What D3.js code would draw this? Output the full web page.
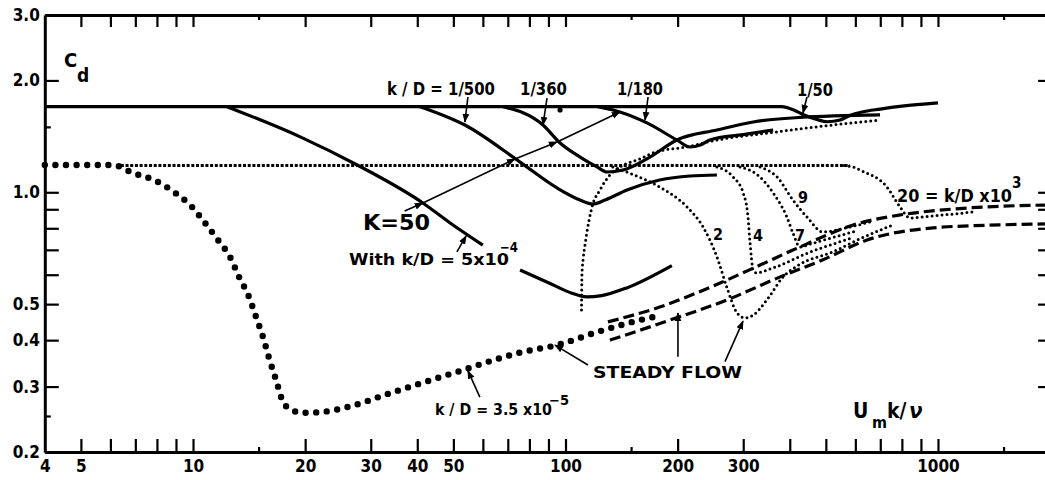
<!DOCTYPE html>
<html><head><meta charset="utf-8">
<script src="https://cdn.jsdelivr.net/npm/d3@7"></script>
<style>
body{margin:0;background:#fff}
svg{display:block}
text{font-family:"DejaVu Sans Condensed","DejaVu Sans",sans-serif;font-stretch:condensed;font-weight:bold;fill:#000}
</style></head><body>
<svg id="c" width="1045" height="480"></svg>
<script>
// ---------- tick data ----------
const xTickValues = [4,5,6,7,8,9,10,15,20,30,40,50,60,70,80,90,100,150,200,300,400,500,600,700,800,900,1000,1500];
const xMinorTicks = [15,150,1500];
const xLabelValues = [4,5,10,20,30,40,50,100,200,300,1000];
const yTickValues = [0.2,0.25,0.3,0.4,0.5,0.6,0.7,0.8,0.9,1.0,1.5,2.0,3.0];
const yRightTickValues = [0.25,0.3,0.4,0.5,0.6,0.7,0.8,0.9,1.0,1.5,2.0,2.5];
const yMinorTicks = [0.25,1.5,2.5];
const yLabelValues = [0.2,0.3,0.4,0.5,1.0,2.0,3.0];
const yLabelTexts  = ["0.2","0.3","0.4","0.5","1.0","2.0","3.0"];

// ---------- series (Re = Um k/nu, Cd) ----------
const topLine50 = [[4,1.70],[381,1.70],[410,1.665],[434,1.62],[473,1.57],[504,1.548],[546,1.565],[580,1.61],[625,1.645],[700,1.675],[800,1.705],[1000,1.74]];
const curve5e4  = [[12.34,1.70],[19.4,1.41],[27.6,1.184],[41.4,0.936],[49,0.827],[60,0.721]];
const kD500     = [[40.7,1.70],[53.7,1.517],[75.5,1.206],[94.9,1.027],[109.4,0.953],[118.5,0.93],[127.7,0.953],[146.3,1.014],[179,1.079],[216,1.106],[255,1.113]];
const kD360     = [[68,1.70],[87,1.517],[96.7,1.357],[110,1.24],[121.5,1.17],[129.2,1.134],[142.7,1.148],[168.6,1.244],[199,1.383],[255,1.471],[319,1.546],[426,1.59],[699,1.615]];
const kD180     = [[122,1.70],[140,1.645],[165.5,1.537],[199,1.383],[216,1.324],[230,1.34],[244,1.383],[300,1.43],[361,1.471]];
const lowerSolid= [[75.5,0.618],[90,0.571],[104,0.535],[114,0.523],[125,0.527],[146,0.553],[193,0.635]];
const kLine50   = [[37,0.89],[41.4,0.936],[73.2,1.229],[94.9,1.366],[140,1.645]];
const bigDots   = [[4,1.184],[6.1,1.184],[6.9,1.127],[7.86,1.079],[8.89,1.002],[9.94,0.913],[10.77,0.827],[11.67,0.744],[12.57,0.670],[13.29,0.592],[14.13,0.523],[14.76,0.462],[15.41,0.408],[16.0,0.358],[16.7,0.313],[17.44,0.273],[18.44,0.259],[19.74,0.255],[21.9,0.256],[25.9,0.264],[33.8,0.288],[49.9,0.326],[76.9,0.372],[94.9,0.388],[122,0.421],[158.5,0.453],[181.6,0.467]];
const horizDots = [[6.4,1.18],[580,1.18]];
const risingDots= [[110.4,0.482],[110.7,0.60],[111.5,0.66],[113,0.73],[117.8,0.913],[123.7,1.014],[131.6,1.113],[140,1.17],[158.5,1.23],[173,1.28],[216,1.33],[244,1.37],[361,1.45],[618,1.546],[699,1.565]];
const dots2     = [[134,1.17],[146,1.134],[179,1.033],[212,0.913],[234,0.807],[255,0.670],[271,0.556],[289,0.473],[303,0.459],[319,0.467],[347,0.513],[384,0.592],[426,0.64],[520,0.69],[618,0.75],[757,0.817]];
const dots4     = [[255,1.17],[282,1.099],[300,0.996],[309,0.858],[313,0.730],[319,0.618],[325,0.607],[361,0.626],[453,0.69],[580,0.75]];
const dots7     = [[294,1.17],[333,1.099],[361,0.996],[393,0.858],[408,0.777],[426,0.712],[453,0.725],[520,0.755],[600,0.785]];
const dots9     = [[333,1.17],[370,1.099],[408,0.953],[445,0.858],[491,0.782],[560,0.80],[657,0.832]];
const dots20    = [[560,1.18],[600,1.165],[618,1.148],[729.5,1.033],[791,0.913],[841,0.853],[950,0.862],[1242,0.885]];
const upperDash = [[130,0.448],[179,0.491],[260,0.570],[333,0.637],[408,0.699],[618,0.827],[791,0.869],[1197,0.907],[1937,0.924]];
const lowerDash = [[131.6,0.400],[190.8,0.453],[271,0.513],[377,0.592],[491,0.658],[645,0.744],[970,0.802],[1467,0.817],[1937,0.822]];
const strayDots = [[96.7,1.665]];

// ---------- annotation pointers (data coords) ----------
const pointers = [
  [[54.7,1.805],[53.7,1.546]],
  [[89.2,1.793],[87,1.517]],
  [[166.6,1.805],[163.5,1.565]],
  [[445,1.805],[434,1.635]],
  [[51.1,0.691],[54.1,0.763]],
  [[58.9,0.281],[54.7,0.331]],
  [[114.9,0.343],[93.7,0.388]],
  [[200.4,0.361],[200.4,0.473]],
  [[268,0.350],[299.6,0.450]]
];

// ---------- texts ----------
const labelTexts = ["k / D = 1/500","1/360","1/180","1/50","K=50","With  k/D = 5x10","k / D = 3.5 x10","STEADY  FLOW","2","4","7","9","20 = k/D x10"];

const svg = d3.select("#c");
const x = d3.scaleLog().domain([4,2000]).range([44.8,1050.1]);
const y = d3.scaleLog().domain([0.2,3]).range([452,15]);

const defs = svg.append("defs");
defs.append("marker").attr("id","ah").attr("viewBox","0 0 10 10").attr("refX",9).attr("refY",5)
  .attr("markerWidth",9).attr("markerHeight",9).attr("markerUnits","userSpaceOnUse").attr("orient","auto")
  .append("path").attr("d","M0,1.2 L10,5 L0,8.8 z").attr("fill","#000");

// ---------- axes ----------
function styleAxis(g){
  g.select(".domain").attr("stroke","#000").attr("stroke-width",3);
  g.selectAll(".tick line").attr("stroke","#000").attr("stroke-width",2.2);
  g.selectAll("text").style("font-size","17px").attr("fill","#000");
}
const gB = svg.append("g").attr("transform","translate(0,452)")
  .call(d3.axisBottom(x).tickValues(xTickValues).tickSizeInner(-13).tickSizeOuter(0).tickPadding(8)
    .tickFormat(d => xLabelValues.includes(d) ? String(d) : ""));
gB.selectAll(".tick line").filter(d => xMinorTicks.includes(d)).attr("y2",-5);
gB.selectAll(".tick line").filter(d => d===4).remove();
styleAxis(gB);

const gT = svg.append("g").attr("transform","translate(0,15)")
  .call(d3.axisTop(x).tickValues(xTickValues.filter(d=>d!==4)).tickSizeInner(-12).tickSizeOuter(0).tickFormat(""));
gT.selectAll(".tick line").filter(d => xMinorTicks.includes(d)).attr("y2",5);
styleAxis(gT);

const gL = svg.append("g").attr("transform",`translate(${x(4)},0)`)
  .call(d3.axisLeft(y).tickValues(yTickValues).tickSizeInner(-14).tickSizeOuter(0).tickPadding(5)
    .tickFormat(d => { const i = yLabelValues.indexOf(d); return i>=0 ? yLabelTexts[i] : ""; }));
gL.selectAll(".tick line").filter(d => yMinorTicks.includes(d)).attr("x2",6);
styleAxis(gL);

const gR = svg.append("g").attr("transform",`translate(${x(2000)},0)`)
  .call(d3.axisRight(y).tickValues(yRightTickValues).tickSizeInner(-12).tickSizeOuter(0).tickFormat(""));
gR.selectAll(".tick line").filter(d => yMinorTicks.includes(d)).attr("x2",-4);
styleAxis(gR);

// ---------- curves ----------
const line = d3.line().x(d=>x(d[0])).y(d=>y(d[1])).curve(d3.curveMonotoneX);
function draw(data, w, dash, cap){
  svg.append("path").datum(data).attr("d",line).attr("fill","none").attr("stroke","#000")
    .attr("stroke-width",w).attr("stroke-linejoin","round")
    .attr("stroke-linecap",cap||"butt").attr("stroke-dasharray",dash||null);
}
// solid
[topLine50, curve5e4, kD500, kD360, kD180, lowerSolid].forEach(d => draw(d, 3.2));
// big dots
draw(bigDots, 6.4, "0 10.6", "round");
// fine dotted
draw(horizDots, 3, "3 1.7");
[risingDots, dots2, dots4, dots7, dots9, dots20].forEach(d => draw(d, 3, "0 5", "round"));
// dashed
[upperDash, lowerDash].forEach(d => draw(d, 3.2, "11 5"));

// K = 50 line with arrowheads at each crossing
for(let i=0;i<kLine50.length-1;i++){
  svg.append("line").attr("x1",x(kLine50[i][0])).attr("y1",y(kLine50[i][1]))
    .attr("x2",x(kLine50[i+1][0])).attr("y2",y(kLine50[i+1][1]))
    .attr("stroke","#000").attr("stroke-width",1.6).attr("marker-end","url(#ah)");
}
// pointers
pointers.forEach(p => {
  svg.append("line").attr("x1",x(p[0][0])).attr("y1",y(p[0][1])).attr("x2",x(p[1][0])).attr("y2",y(p[1][1]))
    .attr("stroke","#000").attr("stroke-width",1.6).attr("marker-end","url(#ah)");
});
svg.selectAll(".stray").data(strayDots).join("circle").attr("class","stray")
  .attr("cx",d=>x(d[0])).attr("cy",d=>y(d[1])).attr("r",2.6).attr("fill","#000");

// ---------- texts ----------
function txt(s, px, py, size, len, anchor){
  const t = svg.append("text").attr("x",px).attr("y",py).style("font-size",size+"px").text(s);
  if(len) t.attr("textLength",len).attr("lengthAdjust","spacingAndGlyphs");
  if(anchor) t.attr("text-anchor",anchor);
  return t;
}
txt("C", 64, 67, 20);
txt("d", 77, 82, 19);
txt(labelTexts[0], 387, 95, 17, 108);
txt(labelTexts[1], 520, 95, 17, 47);
txt(labelTexts[2], 617, 95, 17, 46);
txt(labelTexts[3], 797, 96, 17, 36);
txt(labelTexts[4], 363, 230, 22, 67);
txt(labelTexts[5], 349, 265, 15, 160);
txt("\u22124", 500, 252, 14, 18);
txt(labelTexts[6], 435, 415, 15, 117);
txt("\u22125", 549, 405, 14, 20);
txt(labelTexts[7], 593, 378, 16, 149);
txt(labelTexts[8], 718, 240, 16, null, "middle");
txt(labelTexts[9], 758, 241, 16, null, "middle");
txt(labelTexts[10], 800, 241, 16, null, "middle");
txt(labelTexts[11], 803, 203, 16, null, "middle");
txt(labelTexts[12], 897, 202, 18, 115);
txt("3", 1012, 188, 15);
txt("U", 853, 418, 21);
txt("m", 872, 428, 16);
txt("k/", 887, 418, 21);
txt("\u03BD", 909, 418, 22).style("font-style","italic");
</script>
</body></html>
